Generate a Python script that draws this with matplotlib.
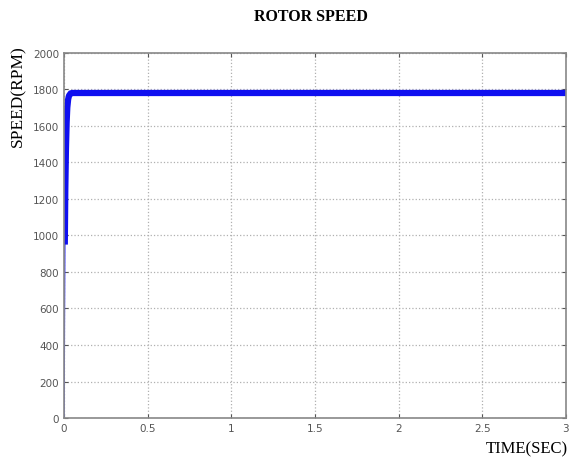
import numpy as np
import matplotlib
matplotlib.use('Agg')
import matplotlib.pyplot as plt

# speed trace
time_s = [0.0, 0.002, 0.005, 0.008, 0.012, 0.016, 0.02, 0.025, 0.03, 0.04, 0.05, 3.0]
speed_rpm = [0, 500, 950, 1250, 1480, 1620, 1700, 1745, 1765, 1778, 1780, 1780]

xticks = [0, 0.5, 1, 1.5, 2, 2.5, 3]
xticklabels = ['0', '0.5', '1', '1.5', '2', '2.5', '3']
yticks = list(range(0, 2001, 200))

fig = plt.figure(figsize=(5.71, 4.60), dpi=100)
ax = fig.add_axes([0.112, 0.089, 0.879, 0.794])

# thin start, then the thick ripple band
ax.plot(time_s[:3], speed_rpm[:3], color='#4a4aff', lw=1.2)
ax.plot(time_s[2:], speed_rpm[2:], color='#1010f0', lw=4.5, solid_capstyle='butt')

ax.set_xlim(0, 3)
ax.set_ylim(0, 2000)
ax.set_xticks(xticks)
ax.set_xticklabels(xticklabels)
ax.set_yticks(yticks)
ax.grid(True, linestyle=':', color='#b0b0b0', lw=0.9)
ax.tick_params(direction='in', labelsize=7.5, colors='#555555', top=True, right=True, length=3)
for s in ax.spines.values():
    s.set_color('#888888')
    s.set_linewidth(1.2)

fig.text(0.545, 0.962, 'ROTOR SPEED', ha='center', va='center',
         fontfamily='Liberation Serif', fontweight='bold', fontsize=11.5)
fig.text(0.032, 0.79, 'SPEED(RPM)', ha='center', va='center', rotation=90,
         fontfamily='Liberation Serif', fontsize=12.5)
fig.text(0.922, 0.022, 'TIME(SEC)', ha='center', va='center',
         fontfamily='Liberation Serif', fontsize=12)

fig.savefig('out.png', dpi=100)
